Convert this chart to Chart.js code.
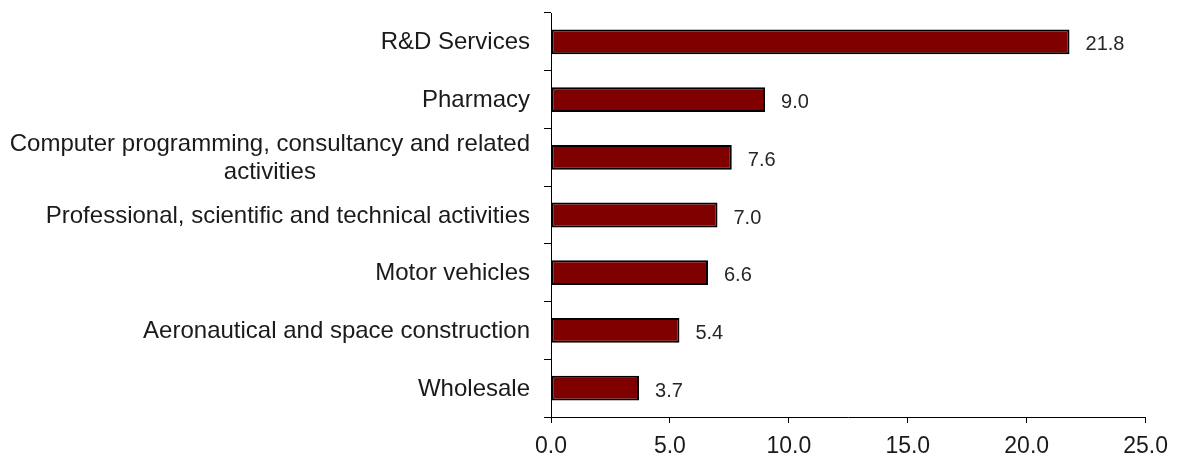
<!DOCTYPE html>
<html>
<head>
<meta charset="utf-8">
<script src="https://cdn.jsdelivr.net/npm/chart.js@4/dist/chart.umd.min.js"></script>
<style>
  html, body { margin: 0; padding: 0; background: #fff; }
  #wrap { width: 1178px; height: 458px; }
</style>
</head>
<body>
<div id="wrap"><canvas id="bar-chart"></canvas></div>
<script>
const categories = [
    ['R&D Services'],
    ['Pharmacy'],
    ['Computer programming, consultancy and related', 'activities'],
    ['Professional, scientific and technical activities'],
    ['Motor vehicles'],
    ['Aeronautical and space construction'],
    ['Wholesale']
];
const values = [21.8, 9.0, 7.6, 7.0, 6.6, 5.4, 3.7];
const xTicks = [0, 5, 10, 15, 20, 25];

const FONT = '"Liberation Sans", Arial, sans-serif';

// category labels: block right-aligned to the axis, lines centred inside the block
const categoryLabels = {
    id: 'categoryLabels',
    afterDraw(chart) {
        const ctx = chart.ctx;
        const yScale = chart.scales.y;
        const right = yScale.right - 21;
        const lineH = 28;
        ctx.save();
        ctx.font = '24px ' + FONT;
        ctx.fillStyle = '#1a1a1a';
        ctx.textAlign = 'center';
        ctx.textBaseline = 'middle';
        categories.forEach((lines, i) => {
            const y = yScale.getPixelForValue(i);
            const widest = Math.max(...lines.map(l => ctx.measureText(l).width));
            const cx = right - widest / 2;
            const top = y - (lines.length - 1) * lineH / 2 + 1;
            lines.forEach((l, j) => ctx.fillText(l, cx, top + j * lineH));
        });
        ctx.restore();
    }
};

// value at the end of each bar
const valueLabels = {
    id: 'valueLabels',
    afterDatasetsDraw(chart) {
        const ctx = chart.ctx;
        const meta = chart.getDatasetMeta(0);
        ctx.save();
        ctx.font = '20px ' + FONT;
        ctx.fillStyle = '#262626';
        ctx.textAlign = 'left';
        ctx.textBaseline = 'middle';
        meta.data.forEach((bar, i) => {
            ctx.fillText(values[i].toFixed(1), bar.x + 16, bar.y + 3);
        });
        ctx.restore();
    }
};

new Chart(document.querySelector('#bar-chart').getContext('2d'), {
    type: 'bar',
    data: {
        labels: categories.map(c => c.join(' ')),
        datasets: [{
            data: values,
            backgroundColor: '#800000',
            borderColor: '#000',
            borderWidth: 2,
            borderSkipped: false,
            barPercentage: 0.43,
            categoryPercentage: 1
        }]
    },
    options: {
        indexAxis: 'y',
        responsive: true,
        maintainAspectRatio: false,
        animation: false,
        layout: { padding: { top: 13, right: 32, left: 0, bottom: 0 } },
        plugins: { legend: { display: false }, tooltip: { enabled: false } },
        scales: {
            x: {
                min: 0,
                max: 25,
                afterBuildTicks: scale => { scale.ticks = xTicks.map(v => ({ value: v })); },
                afterFit: scale => { scale.height = 41; },
                border: { color: '#000', width: 1 },
                grid: { drawOnChartArea: false, drawTicks: true, tickLength: 6, color: '#000' },
                ticks: {
                    color: '#1a1a1a',
                    font: { family: FONT, size: 23 },
                    padding: 10,
                    maxRotation: 0,
                    callback: v => Number(v).toFixed(1)
                }
            },
            y: {
                afterFit: scale => { scale.width = 551; },
                border: { color: '#000', width: 1 },
                grid: { offset: true, drawOnChartArea: false, drawTicks: true, tickLength: 7, color: '#000' },
                ticks: { display: false }
            }
        }
    },
    plugins: [categoryLabels, valueLabels]
});
</script>
</body>
</html>
